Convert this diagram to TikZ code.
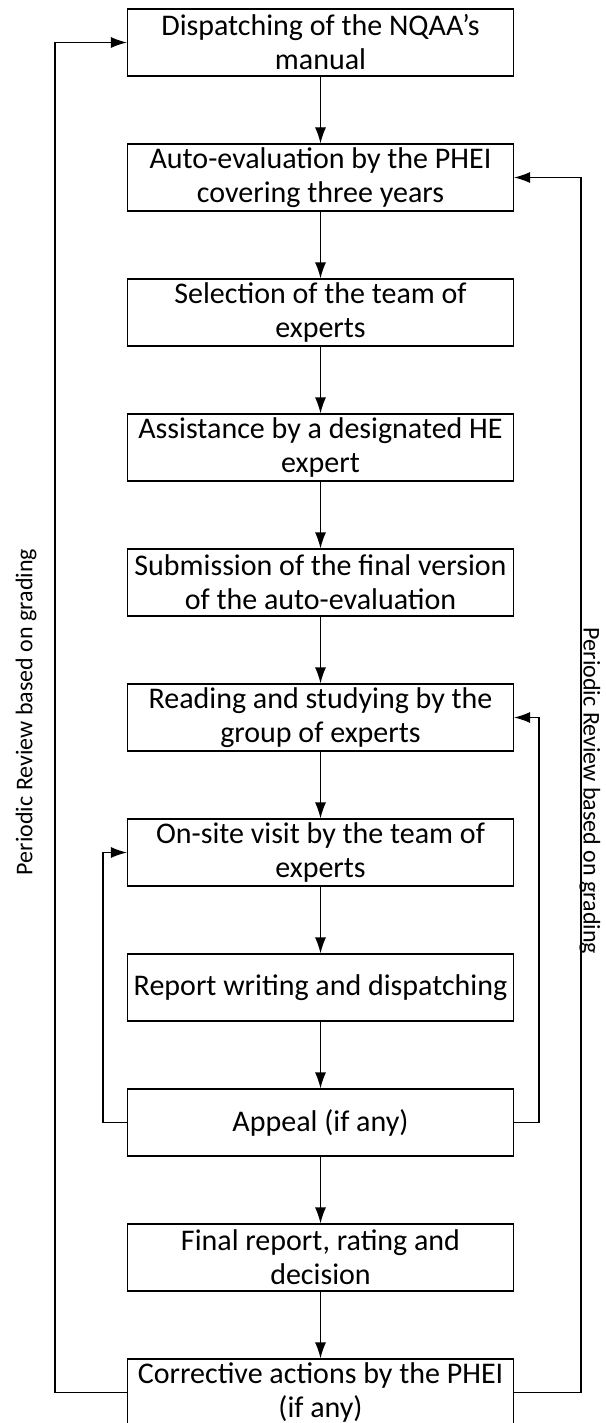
\documentclass[tikz,border=0pt]{standalone}
\usepackage{fontspec}
\setmainfont{Carlito}
\usetikzlibrary{arrows.meta}
\newlength{\du}
\setlength{\du}{1pt}
\tikzset{
  stagebox/.style={draw, line width=1.2\du, minimum width=386\du, minimum height=67\du,
    inner sep=0pt, align=center, font=\fontsize{30}{34}\selectfont},
  flowline/.style={line width=1.2\du},
  flowarrow/.style={flowline, -{Latex[length=16pt,width=11pt]}},
  sidelabel/.style={inner sep=0pt, font=\fontsize{24}{28}\selectfont}
}
\begin{document}
\begin{tikzpicture}
\pgftransformxscale{1.000000}
\pgftransformyscale{-1.000000}
\useasboundingbox (0\du,0\du) rectangle (605\du,1423\du);
% stages
\node[stagebox] (dispatch) at (320.5\du,42.5\du){Dispatching of the NQAA’s\\manual};
\node[stagebox] (autoeval) at (320.5\du,177.5\du){Auto-evaluation by the PHEI\\covering three years};
\node[stagebox] (selection) at (320.5\du,312.5\du){Selection of the team of\\experts};
\node[stagebox] (assist) at (320.5\du,447.5\du){Assistance by a designated HE\\expert};
\node[stagebox] (submit) at (320.5\du,582.5\du){Submission of the final version\\of the auto-evaluation};
\node[stagebox] (reading) at (320.5\du,717.5\du){Reading and studying by the\\group of experts};
\node[stagebox] (onsite) at (320.5\du,852.5\du){On-site visit by the team of\\experts};
\node[stagebox] (report) at (320.5\du,987.5\du){Report writing and dispatching};
\node[stagebox] (appeal) at (320.5\du,1122.5\du){Appeal (if any)};
\node[stagebox] (final) at (320.5\du,1257.5\du){Final report, rating and\\decision};
\node[stagebox] (corrective) at (320.5\du,1392.5\du){Corrective actions by the PHEI\\(if any)};
% main flow
\foreach \a/\b in {dispatch/autoeval, autoeval/selection, selection/assist, assist/submit,
  submit/reading, reading/onsite, onsite/report, report/appeal, appeal/final, final/corrective}
  \draw[flowarrow] (\a) -- (\b);
% feedback loops
\coordinate (outerleft) at (55\du,0\du);
\coordinate (outerright) at (581\du,0\du);
\coordinate (innerleft) at (103\du,0\du);
\coordinate (innerright) at (539\du,0\du);
\draw[flowarrow] (corrective.west) -- (corrective.west -| outerleft) |- (dispatch.west);
\draw[flowarrow] (corrective.east) -- (corrective.east -| outerright) |- (autoeval.east);
\draw[flowarrow] (appeal.west) -- (appeal.west -| innerleft) |- (onsite.west);
\draw[flowarrow] (appeal.east) -- (appeal.east -| innerright) |- (reading.east);
% side labels
\node[sidelabel, rotate=90] (leftnote) at (26\du,712\du){Periodic Review based on grading};
\node[sidelabel, rotate=-90] (rightnote) at (590\du,791\du){Periodic Review based on grading};
\end{tikzpicture}
\end{document}
